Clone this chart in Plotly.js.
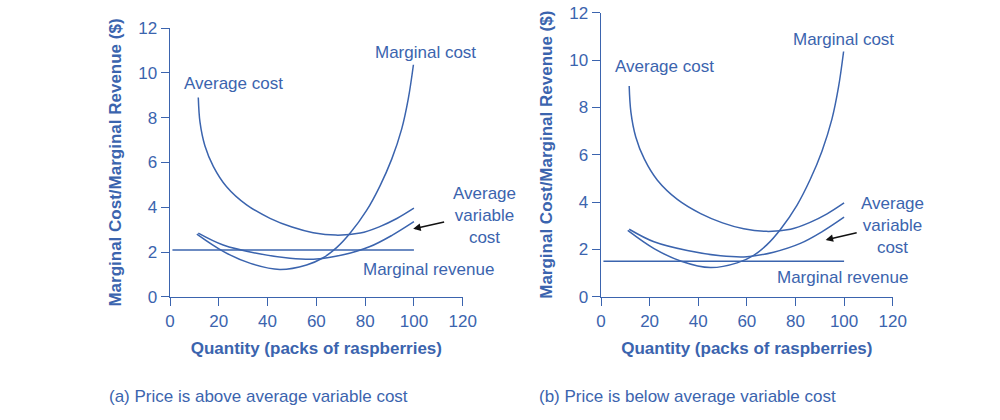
<!DOCTYPE html>
<html>
<head>
<meta charset="utf-8">
<script src="https://cdn.plot.ly/plotly-3.0.1.min.js"></script>
<style>
  html, body { margin: 0; padding: 0; background: #fff; }
  #chart { width: 1000px; height: 420px; }
</style>
</head>
<body>
<div id="chart"></div>
<script>
// curve points (quantity, $)
var mcQty = [11, 22, 33, 45, 56, 62.8, 68.3, 73.8, 80.6, 86.1, 90.9, 95, 97.7, 99.8];
var mcCost = [2.8, 2.02, 1.5, 1.23, 1.43, 1.75, 2.2, 2.84, 3.86, 4.96, 6.15, 7.5, 8.85, 10.36];

var acQty = [11.6, 12.3, 14.3, 17.8, 23.2, 31.4, 41, 50, 58.7, 68, 78, 86, 93, 100];
var acCost = [8.9, 7.8, 6.75, 5.82, 4.92, 4.11, 3.51, 3.12, 2.87, 2.76, 2.85, 3.14, 3.5, 3.96];

var avcQty = [11.6, 21.8, 35.5, 49.2, 60, 71, 82, 91, 100];
var avcCost = [2.85, 2.32, 1.95, 1.73, 1.69, 1.88, 2.25, 2.75, 3.36];

var mrQty = [1, 100];
var mrLeft = [2.1, 2.1];
var mrRight = [1.5, 1.5];

var xTicks = [0, 20, 40, 60, 80, 100, 120];
var yTicks = [0, 2, 4, 6, 8, 10, 12];

var blue = '#3b64ae';
var font = 'Liberation Sans, Arial, sans-serif';

function curve(x, y, xa, ya) {
  return {
    x: x, y: y, xaxis: xa, yaxis: ya,
    type: 'scatter', mode: 'lines',
    line: {color: blue, width: 1.5, shape: 'spline', smoothing: 1},
    hoverinfo: 'skip', showlegend: false
  };
}

var data = [
  curve(mcQty, mcCost, 'x', 'y'),
  curve(acQty, acCost, 'x', 'y'),
  curve(avcQty, avcCost, 'x', 'y'),
  curve(mrQty, mrLeft, 'x', 'y'),
  curve(mcQty, mcCost, 'x2', 'y2'),
  curve(acQty, acCost, 'x2', 'y2'),
  curve(avcQty, avcCost, 'x2', 'y2'),
  curve(mrQty, mrRight, 'x2', 'y2')
];

function xAxis(domain, anchor) {
  return {
    domain: domain, anchor: anchor, range: [0, 120],
    tickvals: xTicks, ticks: 'outside', ticklen: 8, tickcolor: blue,
    showline: true, linecolor: blue, linewidth: 1.5,
    showgrid: false, zeroline: false,
    tickfont: {size: 17, color: blue},
    title: {text: '<b>Quantity (packs of raspberries)</b>', font: {size: 17, color: blue}, standoff: 12}
  };
}

function yAxis(domain, anchor) {
  return {
    domain: domain, anchor: anchor, range: [0, 12],
    tickvals: yTicks, ticks: 'outside', ticklen: 8, tickcolor: blue,
    showline: true, linecolor: blue, linewidth: 1.5,
    showgrid: false, zeroline: false,
    tickfont: {size: 17, color: blue},
    title: {text: '<b>Marginal Cost/Marginal Revenue ($)</b>', font: {size: 17, color: blue}, standoff: 12}
  };
}

function label(text, x, y, xref, yref) {
  return {
    text: text, x: x, y: y, xref: xref, yref: yref,
    showarrow: false, xanchor: 'center', yanchor: 'middle',
    font: {size: 17, color: blue}
  };
}

function pointer(x, y, ax, ay, xref, yref) {
  return {
    text: '', x: x, y: y, ax: ax, ay: ay,
    xref: xref, yref: yref, axref: xref, ayref: yref,
    showarrow: true, arrowhead: 2, arrowsize: 1, arrowwidth: 1.5, arrowcolor: '#111'
  };
}

var layout = {
  width: 1000, height: 420,
  margin: {l: 0, r: 0, t: 0, b: 0},
  paper_bgcolor: '#fff', plot_bgcolor: '#fff',
  font: {family: font, color: blue},
  showlegend: false,
  xaxis: xAxis([0.17, 0.4627], 'y'),
  yaxis: yAxis([0.2929, 0.9333], 'x'),
  xaxis2: xAxis([0.601, 0.8927], 'y2'),
  yaxis2: yAxis([0.2936, 0.9698], 'x2'),
  annotations: [
    label('Marginal cost', 104.8, 10.9, 'x', 'y'),
    label('Average cost', 26.1, 9.54, 'x', 'y'),
    label('Average<br>variable<br>cost', 0.484, 0.488, 'paper', 'paper'),
    label('Marginal revenue', 105.9, 1.24, 'x', 'y'),
    pointer(99.7, 3.04, 113, 3.36, 'x', 'y'),
    label('Marginal cost', 99.7, 10.85, 'x2', 'y2'),
    label('Average cost', 26.2, 9.72, 'x2', 'y2'),
    label('Average<br>variable<br>cost', 0.8925, 0.464, 'paper', 'paper'),
    label('Marginal revenue', 99.4, 0.82, 'x2', 'y2'),
    pointer(92.4, 2.4, 105.8, 2.72, 'x2', 'y2'),
    {text: '(a) Price is above average variable cost', x: 0.107, y: 0.057, xref: 'paper', yref: 'paper',
     showarrow: false, xanchor: 'left', yanchor: 'middle', font: {size: 17, color: blue}},
    {text: '(b) Price is below average variable cost', x: 0.537, y: 0.057, xref: 'paper', yref: 'paper',
     showarrow: false, xanchor: 'left', yanchor: 'middle', font: {size: 17, color: blue}}
  ]
};

Plotly.newPlot('chart', data, layout, {staticPlot: true});
</script>
</body>
</html>
